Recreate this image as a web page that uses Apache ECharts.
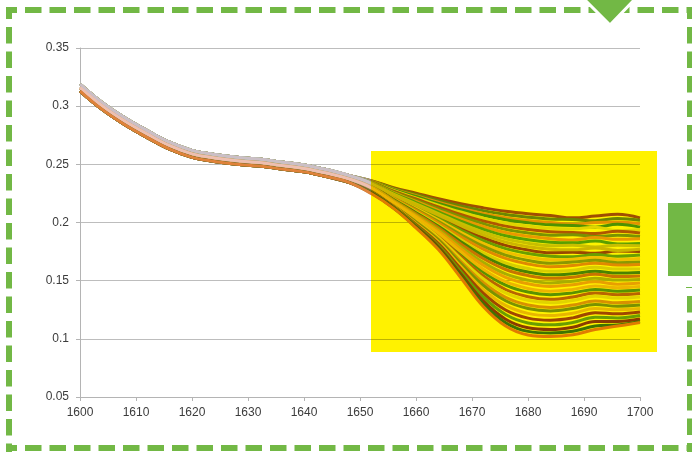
<!DOCTYPE html>
<html><head><meta charset="utf-8">
<script src="https://cdn.jsdelivr.net/npm/echarts@6/dist/echarts.min.js"></script>
<style>html,body{margin:0;padding:0;background:#fff}#c{width:692px;height:452px}</style>
</head><body><div id="c"></div>
<script>
// x positions (wavenumbers)
const wavenumbers = [1600,1604,1608,1612,1616,1620,1624,1628,1632,1636,1640,1644,1648,
                     1652,1656,1660,1664,1668,1672,1676,1680,1684,1688,1692,1696,1700];
// shared start of the spectra (1600–1648)
const headHigh = [0.319,0.303,0.290,0.279,0.269,0.262,0.2585,0.256,0.2545,0.252,0.2495,0.2455,0.2405];
const headMid  = [0.316,0.300,0.287,0.276,0.266,0.259,0.2555,0.253,0.2515,0.249,0.2465,0.2425,0.2375];
const headLow  = [0.313,0.297,0.284,0.273,0.263,0.256,0.2525,0.250,0.2485,0.246,0.2435,0.2395,0.2345];
// diverging ends of the spectra (1652–1700)
const tailsUpper = [
  [0.2360,0.2300,0.2252,0.2204,0.2162,0.2126,0.2096,0.2075,0.2060,0.2040,0.2055,0.2070,0.2040],
  [0.2358,0.2293,0.2241,0.2188,0.2142,0.2102,0.2069,0.2046,0.2030,0.2025,0.2015,0.2035,0.2020],
  [0.2356,0.2287,0.2230,0.2174,0.2122,0.2078,0.2042,0.2017,0.2000,0.1985,0.2000,0.2005,0.1990],
  [0.2354,0.2282,0.2223,0.2163,0.2109,0.2062,0.2024,0.1998,0.1980,0.1975,0.1960,0.1985,0.1960],
  [0.2352,0.2276,0.2212,0.2149,0.2090,0.2038,0.1996,0.1969,0.1950,0.1945,0.1960,0.1930,0.1940],
  [0.2350,0.2269,0.2202,0.2134,0.2070,0.2014,0.1969,0.1939,0.1920,0.1915,0.1905,0.1925,0.1910],
  [0.2347,0.2263,0.2191,0.2119,0.2050,0.1990,0.1941,0.1910,0.1890,0.1895,0.1880,0.1890,0.1880],
  [0.2344,0.2256,0.2181,0.2105,0.2031,0.1966,0.1914,0.1881,0.1860,0.1850,0.1870,0.1855,0.1860],
  [0.2342,0.2251,0.2171,0.2091,0.2012,0.1942,0.1886,0.1851,0.1830,0.1825,0.1840,0.1815,0.1820],
  [0.2340,0.2244,0.2161,0.2077,0.1992,0.1917,0.1859,0.1822,0.1800,0.1805,0.1790,0.1805,0.1800],
  [0.2337,0.2238,0.2151,0.2063,0.1973,0.1893,0.1831,0.1792,0.1770,0.1765,0.1780,0.1760,0.1770]
];
const tailsMiddle = [
  [0.2335,0.2233,0.2142,0.2049,0.1954,0.1869,0.1803,0.1763,0.1740,0.1745,0.1735,0.1755,0.1750],
  [0.2331,0.2227,0.2132,0.2036,0.1935,0.1844,0.1775,0.1733,0.1710,0.1705,0.1725,0.1710,0.1720],
  [0.2328,0.2221,0.2123,0.2022,0.1916,0.1820,0.1747,0.1703,0.1680,0.1685,0.1700,0.1680,0.1690],
  [0.2325,0.2215,0.2113,0.2009,0.1897,0.1796,0.1719,0.1674,0.1650,0.1660,0.1675,0.1655,0.1660],
  [0.2323,0.2210,0.2105,0.1996,0.1878,0.1771,0.1691,0.1644,0.1620,0.1630,0.1650,0.1635,0.1640],
  [0.2318,0.2202,0.2093,0.1979,0.1853,0.1739,0.1653,0.1604,0.1580,0.1590,0.1615,0.1600,0.1600],
  [0.2316,0.2198,0.2084,0.1967,0.1835,0.1714,0.1625,0.1574,0.1550,0.1560,0.1580,0.1565,0.1570],
  [0.2312,0.2192,0.2076,0.1955,0.1816,0.1690,0.1596,0.1544,0.1520,0.1530,0.1555,0.1535,0.1540],
  [0.2308,0.2186,0.2065,0.1939,0.1792,0.1657,0.1558,0.1504,0.1480,0.1495,0.1520,0.1505,0.1510],
  [0.2304,0.2181,0.2056,0.1927,0.1773,0.1632,0.1529,0.1473,0.1450,0.1465,0.1490,0.1470,0.1480],
  [0.2299,0.2174,0.2045,0.1910,0.1749,0.1599,0.1491,0.1433,0.1410,0.1425,0.1455,0.1440,0.1450]
];
const tailsLower = [
  [0.2296,0.2170,0.2038,0.1899,0.1731,0.1575,0.1462,0.1402,0.1380,0.1395,0.1425,0.1410,0.1420],
  [0.2291,0.2163,0.2027,0.1884,0.1706,0.1542,0.1424,0.1362,0.1340,0.1360,0.1395,0.1380,0.1390],
  [0.2288,0.2159,0.2020,0.1873,0.1689,0.1517,0.1395,0.1331,0.1310,0.1330,0.1365,0.1350,0.1360],
  [0.2282,0.2153,0.2010,0.1858,0.1665,0.1484,0.1356,0.1291,0.1270,0.1290,0.1325,0.1310,0.1320],
  [0.2279,0.2149,0.2003,0.1848,0.1647,0.1459,0.1327,0.1260,0.1240,0.1260,0.1295,0.1280,0.1290],
  [0.2273,0.2143,0.1993,0.1834,0.1623,0.1426,0.1287,0.1219,0.1200,0.1220,0.1260,0.1250,0.1260],
  [0.2268,0.2138,0.1984,0.1818,0.1602,0.1393,0.1248,0.1178,0.1160,0.1180,0.1225,0.1215,0.1230],
  [0.2263,0.2133,0.1976,0.1803,0.1580,0.1360,0.1209,0.1136,0.1120,0.1140,0.1185,0.1180,0.1200],
  [0.2257,0.2128,0.1966,0.1790,0.1557,0.1326,0.1169,0.1095,0.1080,0.1100,0.1150,0.1150,0.1170],
  [0.2253,0.2125,0.1961,0.1778,0.1541,0.1301,0.1139,0.1064,0.1050,0.1065,0.1110,0.1120,0.1150],
  [0.2249,0.2121,0.1954,0.1767,0.1525,0.1278,0.1110,0.1033,0.1020,0.1035,0.1080,0.1110,0.1140]
];
const xTicks = [1600,1610,1620,1630,1640,1650,1660,1670,1680,1690,1700];
const yTicks = [0.05,0.1,0.15,0.2,0.25,0.3,0.35];

// styles
const colorsUpper  = ['#a0522d','#6b8e3a','#e39a48','#4e9a2e','#e0e0e0','#b05a30','#7a9ccc','#e8a060','#5aa832','#c8c8c8','#cbbfc6'];
const colorsMiddle = ['#9a4a2a','#6aa83a','#f0c890','#8aa0c0','#e0903a','#d8d8d8','#4a8a2a','#c87a3a','#a8b878','#e8a868','#edbfb1'];
const colorsLower  = ['#5a9a30','#b86a3a','#e0e0d0','#d89848','#7a9a50','#e8c0a0','#a04a28','#6aa640','#8a3e22','#3e7a28','#e0823a'];
const GREEN = '#72b845';

const series = [];
function addGroup(head, tails, colors) {
  tails.forEach((tail, k) => {
    const vals = head.concat(tail);
    series.push({
      type: 'line',
      data: wavenumbers.map((x, i) => [x, vals[i]]),
      smooth: 0.4,
      showSymbol: false,
      silent: true,
      z: k === tails.length - 1 ? 3 : 2,
      lineStyle: { width: 3, color: colors[k] }
    });
  });
}
addGroup(headHigh, tailsUpper, colorsUpper);
addGroup(headMid, tailsMiddle, colorsMiddle);
addGroup(headLow, tailsLower, colorsLower);

const dash = { stroke: GREEN, lineWidth: 6, lineDash: [16.5, 8] };
const chart = echarts.init(document.getElementById('c'), null, { renderer: 'canvas' });
chart.setOption({
  animation: false,
  backgroundColor: '#ffffff',
  grid: { left: 80, right: 52, top: 48, bottom: 55 },
  xAxis: {
    type: 'value', min: xTicks[0], max: xTicks[xTicks.length - 1], interval: 10,
    axisLine: { show: true, lineStyle: { color: '#b4b4b4', width: 1 } },
    axisTick: { show: true, length: 4, lineStyle: { color: '#b4b4b4' } },
    splitLine: { show: false },
    axisLabel: { margin: 10, fontSize: 12, color: '#3c3c3c', fontFamily: 'Liberation Sans',
                 formatter: v => String(v) }
  },
  yAxis: {
    type: 'value', min: yTicks[0], max: yTicks[yTicks.length - 1], interval: 0.05,
    axisLine: { show: true, lineStyle: { color: '#b4b4b4', width: 1 } },
    axisTick: { show: true, length: 4, lineStyle: { color: '#b4b4b4' } },
    splitLine: { show: true, lineStyle: { color: '#bdbdbd', width: 1 } },
    axisLabel: { margin: 11, fontSize: 12, color: '#3c3c3c', fontFamily: 'Liberation Sans' }
  },
  series: series,
  graphic: [
    { type: 'rect', z: 100, silent: true, shape: { x: 371, y: 151, width: 286, height: 201 },
      style: { fill: '#fff200', blend: 'multiply' } },
    { type: 'line', z: 110, shape: { x1: 6, y1: 10, x2: 692, y2: 10 }, style: Object.assign({ lineDashOffset: 5.5 }, dash) },
    { type: 'line', z: 110, shape: { x1: 9, y1: 7, x2: 9, y2: 452 }, style: Object.assign({ lineDashOffset: 4.5 }, dash) },
    { type: 'line', z: 110, shape: { x1: 6, y1: 448, x2: 692, y2: 448 }, style: Object.assign({ lineDashOffset: 5.5 }, dash) },
    { type: 'line', z: 110, shape: { x1: 690, y1: 7, x2: 690, y2: 190 }, style: Object.assign({ lineDashOffset: 4.5 }, dash) },
    { type: 'line', z: 110, shape: { x1: 690, y1: 296, x2: 690, y2: 452 }, style: Object.assign({ lineDashOffset: 0 }, dash) },
    { type: 'line', z: 110, shape: { x1: 686, y1: 287.5, x2: 692, y2: 287.5 }, style: { stroke: GREEN, lineWidth: 1 } },
    { type: 'rect', z: 120, shape: { x: 668, y: 203, width: 26, height: 73 }, style: { fill: GREEN } },
    { type: 'polygon', z: 120, shape: { points: [[583, -2], [636, -2], [610, 25]] },
      style: { fill: GREEN, stroke: '#ffffff', lineWidth: 3 } }
  ]
});
</script></body></html>
